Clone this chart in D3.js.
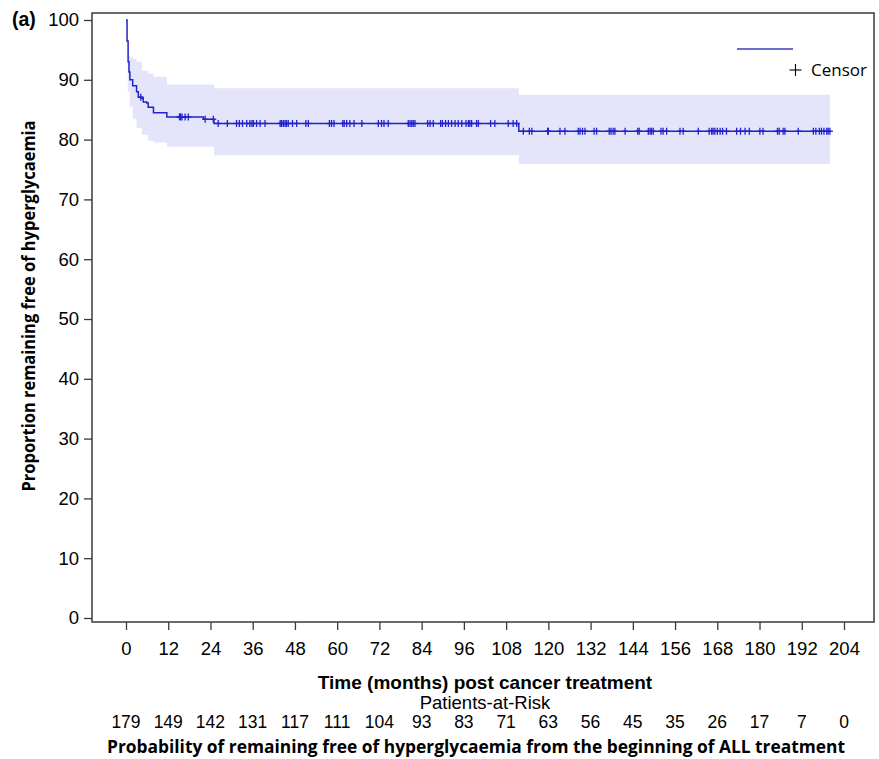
<!DOCTYPE html>
<html>
<head>
<meta charset="utf-8">
<script src="https://cdn.jsdelivr.net/npm/d3@7/dist/d3.min.js"></script>
<style>
  body { margin: 0; background: #fff; }
  text { font-family: "Liberation Sans", Arial, sans-serif; fill: #000; }
</style>
</head>
<body>
<div class="chart"></div>
<script>
// Kaplan-Meier steps (months, %)
var survTimes  = [0, 0.3, 0.6, 0.85, 1.1, 1.9, 3.0, 3.5, 4.5, 4.9, 5.9, 6.3, 7.8, 11.6, 22, 25, 111.6];
var survValues = [100, 96.5, 93, 91.3, 90.0, 89.0, 88.0, 87.1, 86.9, 86.3, 86.1, 85.4, 84.5, 83.8, 83.4, 82.7, 81.4];
var lastTime = 200;

// confidence band
var bandTimes = [0.5, 1.1, 1.9, 3.0, 4.5, 6.3, 7.8, 11.6, 25, 111.6];
var bandUpper = [94.0, 93.8, 93.5, 93.0, 91.5, 91.0, 90.5, 89.2, 88.6, 87.5];
var bandLower = [88.0, 85.5, 83.5, 82.0, 80.8, 79.8, 79.5, 78.8, 77.4, 75.9];

var censorTimes = [4.2, 15.2, 15.5, 15.9, 16.8, 17.7, 22.5, 24.8, 26.2, 28.8, 31.4, 32.2, 33.1, 34.3, 35.2, 35.8,
  36.2, 37.1, 38.1, 39.5, 43.8, 44.2, 44.7, 45.2, 45.6, 46.1, 47.3, 48.5, 51.1, 51.8, 57.8, 58.4, 59.1,
  61.6, 62.0, 62.7, 63.6, 64.8, 67.0, 71.7, 72.6, 73.3, 74.5, 80.2, 80.7, 81.2, 81.6, 82.1, 85.7, 86.4,
  87.3, 89.4, 89.9, 90.8, 91.6, 92.5, 93.5, 94.4, 95.4, 96.6, 97.3, 97.7, 98.2, 99.6, 100.1, 103.6, 104.8,
  108.6, 110.0, 111.0, 112.9, 114.6, 115.3, 119.8, 120.0, 123.3, 124.7, 128.5, 129.0, 129.7, 130.4, 133.0,
  133.7, 137.3, 137.8, 138.4, 138.9, 141.8, 145.4, 145.8, 148.4, 148.9, 149.3, 149.8, 152.0, 152.6, 153.6,
  157.4, 158.3, 162.6, 165.7, 166.4, 166.8, 167.3, 168.0, 168.8, 169.5, 170.6, 173.5, 174.6, 175.9, 177.1,
  180.1, 181.0, 185.1, 185.6, 186.7, 187.2, 191.0, 195.3, 196.0, 197.0, 197.6, 198.3, 199.1, 199.5, 200.0];

var xTicks = d3.range(0, 205, 12);
var yTicks = d3.range(0, 101, 10);
var atRisk = [179, 149, 142, 131, 117, 111, 104, 93, 83, 71, 63, 56, 45, 35, 26, 17, 7, 0];

var W = 879, H = 759;
var frame = {left: 92, top: 13, right: 874, bottom: 622};
var blue = '#2222cc';

var svg = d3.select('.chart')
  .append('svg')
  .attr('width', W)
  .attr('height', H);

var x = d3.scaleLinear().domain([0, 204]).range([126, 844]);
var y = d3.scaleLinear().domain([0, 100]).range([618, 20]);

// band
var bandData = bandTimes.map((t, i) => ({t: t, lo: bandLower[i], hi: bandUpper[i]}));
bandData.push({t: lastTime, lo: bandLower[bandLower.length - 1], hi: bandUpper[bandUpper.length - 1]});

svg.append('path')
  .datum(bandData)
  .attr('fill', '#e4e4fa')
  .attr('d', d3.area()
    .curve(d3.curveStepAfter)
    .x(d => x(d.t))
    .y0(d => y(d.lo))
    .y1(d => y(d.hi)));

// survival curve
var survData = survTimes.map((t, i) => ({t: t, v: survValues[i]}));
survData.push({t: lastTime, v: survValues[survValues.length - 1]});

svg.append('path')
  .datum(survData)
  .attr('fill', 'none')
  .attr('stroke', blue)
  .attr('stroke-width', 1.5)
  .attr('d', d3.line()
    .curve(d3.curveStepAfter)
    .x(d => x(d.t))
    .y(d => y(d.v)));

function survAt(t) {
  var i = d3.bisectRight(survTimes, t) - 1;
  return survValues[Math.max(0, i)];
}

var censors = svg.append('g')
  .selectAll('g')
  .data(censorTimes)
  .enter()
  .append('g')
  .attr('transform', t => `translate(${x(t)}, ${y(survAt(t))})`)
  .attr('stroke', blue)
  .attr('stroke-width', 1.3);

censors.append('line').attr('x1', 0).attr('x2', 0).attr('y1', -3.5).attr('y2', 3.5);
censors.append('line').attr('x1', -3).attr('x2', 3).attr('y1', 0).attr('y2', 0);

// frame
svg.append('rect')
  .attr('x', frame.left)
  .attr('y', frame.top)
  .attr('width', frame.right - frame.left)
  .attr('height', frame.bottom - frame.top)
  .attr('fill', 'none')
  .attr('stroke', '#3a3a3a')
  .attr('stroke-width', 1.5);

// axes
var yAxis = svg.append('g')
  .attr('transform', `translate(${frame.left}, 0)`)
  .call(d3.axisLeft(y).tickValues(yTicks).tickSize(8).tickPadding(5));
var xAxis = svg.append('g')
  .attr('transform', `translate(0, ${frame.bottom})`)
  .call(d3.axisBottom(x).tickValues(xTicks).tickSize(8).tickPadding(12));

[yAxis, xAxis].forEach(a => {
  a.select('.domain').remove();
  a.selectAll('line').attr('stroke', '#3a3a3a').attr('stroke-width', 1.3);
  a.selectAll('text')
    .style('font-family', '"Liberation Sans", Arial, sans-serif')
    .style('font-size', '18.5px')
    .attr('fill', '#000');
});

// titles
svg.append('text')
  .attr('x', 12)
  .attr('y', 26)
  .style('font-size', '19.5px')
  .style('font-weight', 'bold')
  .text('(a)');

svg.append('text')
  .attr('transform', 'translate(35, 306) rotate(-90)')
  .attr('text-anchor', 'middle')
  .style('font-family', '"Open Sans", sans-serif')
  .style('font-size', '17.5px')
  .style('font-weight', 'bold')
  .attr('textLength', 371)
  .attr('lengthAdjust', 'spacingAndGlyphs')
  .text('Proportion remaining free of hyperglycaemia');

svg.append('text')
  .attr('x', 485)
  .attr('y', 689)
  .attr('text-anchor', 'middle')
  .style('font-size', '19px')
  .style('font-weight', 'bold')
  .text('Time (months) post cancer treatment');

svg.append('text')
  .attr('x', 485)
  .attr('y', 709)
  .attr('text-anchor', 'middle')
  .style('font-size', '18.5px')
  .text('Patients-at-Risk');

svg.append('g')
  .selectAll('text')
  .data(atRisk)
  .enter()
  .append('text')
  .attr('x', (d, i) => x(xTicks[i]))
  .attr('y', 728)
  .attr('text-anchor', 'middle')
  .style('font-size', '17.5px')
  .text(d => d);

svg.append('text')
  .attr('x', 476)
  .attr('y', 753)
  .attr('text-anchor', 'middle')
  .style('font-family', '"Open Sans", sans-serif')
  .style('font-size', '17.5px')
  .style('font-weight', 'bold')
  .attr('textLength', 738)
  .attr('lengthAdjust', 'spacingAndGlyphs')
  .text('Probability of remaining free of hyperglycaemia from the beginning of ALL treatment');

// legend
var legend = svg.append('g');
legend.append('line')
  .attr('x1', 737).attr('x2', 793)
  .attr('y1', 49).attr('y2', 49)
  .attr('stroke', '#3c3cc0')
  .attr('stroke-width', 1.3);
legend.append('line')
  .attr('x1', 789.5).attr('x2', 801.5).attr('y1', 70).attr('y2', 70)
  .attr('stroke', '#000').attr('stroke-width', 1.1);
legend.append('line')
  .attr('x1', 795.5).attr('x2', 795.5).attr('y1', 64).attr('y2', 76)
  .attr('stroke', '#000').attr('stroke-width', 1.1);
legend.append('text')
  .attr('x', 811)
  .attr('y', 76)
  .style('font-family', '"Open Sans", sans-serif')
  .style('font-size', '17px')
  .text('Censor');
</script>
</body>
</html>
